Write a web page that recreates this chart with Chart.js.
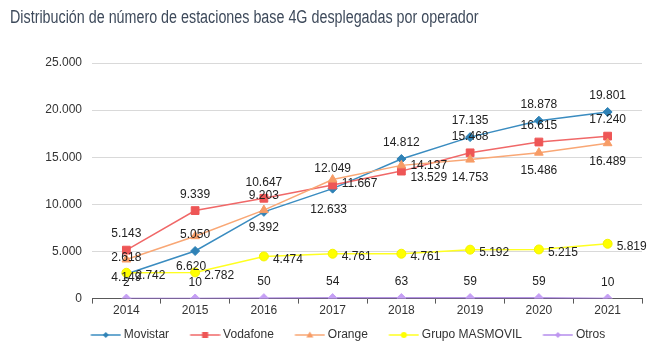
<!DOCTYPE html>
<html lang="es">
<head>
<meta charset="utf-8">
<title>Estaciones base 4G por operador</title>
<script src="https://cdn.jsdelivr.net/npm/chart.js@4.4.1/dist/chart.umd.min.js"></script>
<style>
  html, body { margin: 0; padding: 0; background: #fff; }
</style>
</head>
<body>
<canvas id="myLineChart" width="664" height="351"></canvas>
<script>
// Years (x axis)
var years = ['2014', '2015', '2016', '2017', '2018', '2019', '2020', '2021'];

// Deployed 4G base stations per operator
var movistar = [2618, 5050, 9203, 11667, 14812, 17135, 18878, 19801];
var vodafone = [5143, 9339, 10647, 12049, 13529, 15468, 16615, 17240];
var orange   = [4149, 6620, 9392, 12633, 14137, 14753, 15486, 16489];
var masmovil = [2742, 2782, 4474, 4761, 4761, 5192, 5215, 5819];
var otros    = [2, 10, 50, 54, 63, 59, 59, 10];

// y axis ticks
var yTicks = [0, 5000, 10000, 15000, 20000, 25000];

var chartTitle = 'Distribución de número de estaciones base 4G desplegadas por operador';

// Spanish style thousands: 25.000
function fmt(v) {
  return String(v).replace(/\B(?=(\d{3})+(?!\d))/g, '.');
}

// where each data label sits relative to its point [dx, dy, align]
var T = [0, -16, 'center'], B = [0, 18, 'center'], B2 = [-4, 30, 'center'];
var R = [9, 3, 'left'], RU = [9, -5, 'left'], RD = [9, 7, 'left'], R0 = [9, 0, 'left'];
var labelSpots = [
  [T, T, T, RU, T, T, T, T],      // Movistar
  [T, T, T, T, RD, T, T, T],      // Vodafone
  [B, B2, B, B2, R0, B, B, B],    // Orange
  [R, R, R, R, R, R, R, R],       // Grupo MASMOVIL
  [T, T, T, T, T, T, T, T]        // Otros
];

// small line + marker picture for the legend
// (wider than the legend box so the line sits close to its text)
function makeKey(lineColor, markColor, shape) {
  var c = document.createElement('canvas');
  c.width = 44; c.height = 10;
  var g = c.getContext('2d');
  var x0 = 13.5, mx = 28.5;
  g.strokeStyle = lineColor;
  g.lineWidth = 1.5;
  g.beginPath(); g.moveTo(x0, 5); g.lineTo(x0 + 30, 5); g.stroke();
  g.fillStyle = markColor;
  g.beginPath();
  if (shape === 'diamond') {
    g.moveTo(mx, 2); g.lineTo(mx + 3, 5); g.lineTo(mx, 8); g.lineTo(mx - 3, 5);
  } else if (shape === 'square') {
    g.rect(mx - 3, 2, 6, 6);
  } else if (shape === 'triangle') {
    g.moveTo(mx, 1.5); g.lineTo(mx + 3.5, 7.5); g.lineTo(mx - 3.5, 7.5);
  } else {
    g.arc(mx, 5, 3, 0, Math.PI * 2);
  }
  g.closePath();
  g.fill();
  return c;
}

var keys = [
  makeKey('#3a8cc0', '#2f82b6', 'diamond'),
  makeKey('#f06868', '#ee5656', 'square'),
  makeKey('#f9a775', '#f79c66', 'triangle'),
  makeKey('#ffff20', '#ffff00', 'circle'),
  makeKey('#b48cec', '#bf96f0', 'diamond')
];

// draws the number next to every point
var valueLabels = {
  id: 'valueLabels',
  afterDatasetsDraw: function(chart) {
    var ctx = chart.ctx;
    ctx.save();
    ctx.font = '12px "Liberation Sans", Arial, sans-serif';
    ctx.fillStyle = '#222222';
    ctx.textBaseline = 'middle';
    chart.data.datasets.forEach(function(ds, i) {
      var meta = chart.getDatasetMeta(i);
      meta.data.forEach(function(pt, j) {
        var spot = labelSpots[i][j];
        ctx.textAlign = spot[2];
        ctx.fillText(fmt(ds.data[j]), pt.x + spot[0], pt.y + spot[1]);
      });
    });
    ctx.restore();
  }
};

// narrow title in the top left corner
var titleText = {
  id: 'titleText',
  afterDraw: function(chart) {
    var ctx = chart.ctx;
    ctx.save();
    ctx.translate(10, 18);
    ctx.scale(0.795, 1);
    ctx.font = '18px "Liberation Sans", Arial, sans-serif';
    ctx.fillStyle = '#3e4a5b';
    ctx.textAlign = 'left';
    ctx.textBaseline = 'middle';
    ctx.fillText(chartTitle, 0, 0);
    ctx.restore();
  }
};

// the legend row sits a bit right of the page centre
var legendShift = {
  id: 'legendShift',
  afterLayout: function(chart) {
    if (chart.legend) {
      chart.legend.left += 17;
      chart.legend.right += 17;
    }
  }
};

var ctx = document.getElementById('myLineChart').getContext('2d');

var myLineChart = new Chart(ctx, {
  type: 'line',
  data: {
    labels: years,
    datasets: [{
      label: 'Movistar',
      data: movistar,
      borderColor: '#3a8cc0',
      pointBackgroundColor: '#2f82b6',
      pointBorderColor: '#2f82b6',
      pointStyle: 'rectRot',
      pointRadius: 4.5,
      order: 5
    }, {
      label: 'Vodafone',
      data: vodafone,
      borderColor: '#f06868',
      pointBackgroundColor: '#ee5656',
      pointBorderColor: '#ee5656',
      pointStyle: 'rect',
      pointRadius: 5.5,
      order: 4
    }, {
      label: 'Orange',
      data: orange,
      borderColor: '#f9a775',
      pointBackgroundColor: '#f79c66',
      pointBorderColor: '#f79c66',
      pointStyle: 'triangle',
      pointRadius: 5,
      order: 3
    }, {
      label: 'Grupo MASMOVIL',
      data: masmovil,
      borderColor: '#ffff20',
      pointBackgroundColor: '#ffff00',
      pointBorderColor: '#f2f200',
      pointStyle: 'circle',
      pointRadius: 4.5,
      order: 2
    }, {
      label: 'Otros',
      data: otros,
      borderColor: '#9c70da',
      pointBackgroundColor: '#c6a0f5',
      pointBorderColor: '#c6a0f5',
      pointStyle: 'rectRot',
      pointRadius: 4.5,
      order: 1
    }]
  },
  options: {
    responsive: false,
    devicePixelRatio: 1,
    animation: false,
    elements: {
      line: { borderWidth: 1.5, tension: 0, fill: false },
      point: { borderWidth: 1 }
    },
    layout: {
      padding: { top: 63, left: 10, right: 22, bottom: 0 }
    },
    scales: {
      x: {
        offset: true,
        grid: {
          offset: true,
          drawOnChartArea: false,
          drawTicks: true,
          tickLength: 5,
          color: '#595959'
        },
        border: { color: '#595959', width: 1 },
        ticks: {
          color: '#333333',
          font: { family: '"Liberation Sans", Arial, sans-serif', size: 12 },
          padding: 0
        }
      },
      y: {
        min: 0,
        max: 25000,
        afterBuildTicks: function(scale) {
          scale.ticks = yTicks.map(function(v) { return { value: v }; });
        },
        afterFit: function(scale) {
          scale.width = 82;
        },
        grid: { color: '#d9d9d9', drawTicks: false },
        border: { display: false },
        ticks: {
          color: '#333333',
          font: { family: '"Liberation Sans", Arial, sans-serif', size: 12 },
          padding: 10,
          callback: function(v) { return fmt(v); }
        }
      }
    },
    plugins: {
      title: { display: false },
      legend: {
        position: 'bottom',
        labels: {
          color: '#333333',
          font: { family: '"Liberation Sans", Arial, sans-serif', size: 12 },
          usePointStyle: true,
          pointStyleWidth: 37,
          padding: 11,
          generateLabels: function(chart) {
            var items = Chart.defaults.plugins.legend.labels.generateLabels(chart);
            items.sort(function(a, b) { return a.datasetIndex - b.datasetIndex; });
            items.forEach(function(it) {
              it.pointStyle = keys[it.datasetIndex];
              it.rotation = 0;
            });
            return items;
          }
        }
      },
      tooltip: { enabled: false }
    }
  },
  plugins: [valueLabels, titleText, legendShift]
});
</script>
</body>
</html>
